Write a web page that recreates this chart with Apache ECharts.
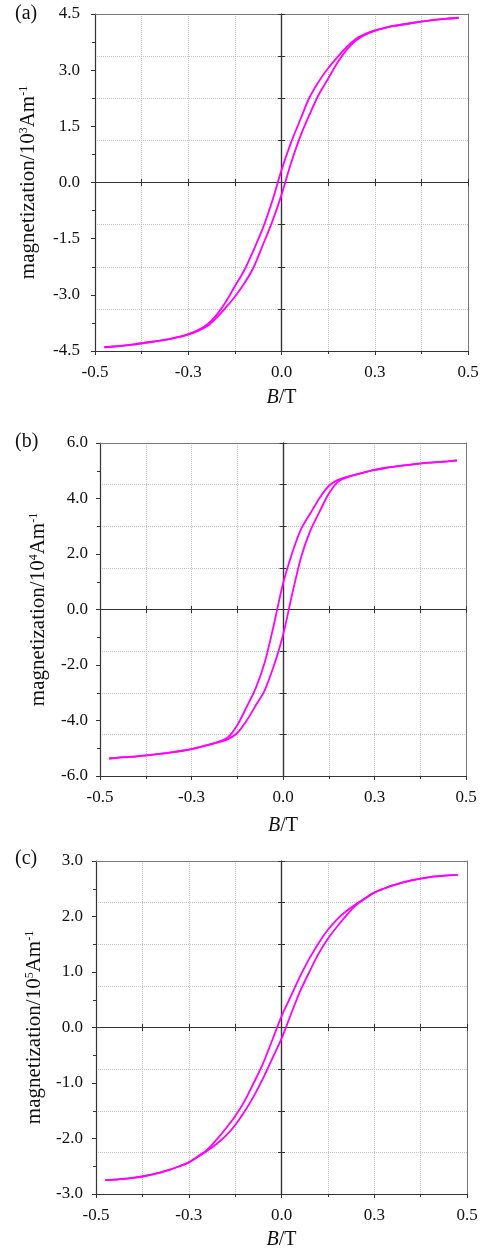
<!DOCTYPE html>
<html><head><meta charset="utf-8">
<script src="https://cdn.jsdelivr.net/npm/echarts@6/dist/echarts.min.js"></script>
<style>html,body{margin:0;padding:0;background:#fff}#c{width:485px;height:1248px}</style>
</head><body><div id="c"></div>
<script>
// Field values B (T) at which the branches were read
const B_VALUES = [-0.475,-0.45,-0.4,-0.35,-0.3,-0.275,-0.25,-0.225,-0.2,-0.175,-0.15,-0.125,-0.1,-0.075,-0.05,-0.025,0,0.025,0.05,0.075,0.1,0.125,0.15,0.175,0.2,0.225,0.25,0.275,0.3,0.35,0.4,0.45,0.475];

// Panel (a): magnetization / 10^3 A m^-1
const A_DESC = [-4.40,-4.38,-4.33,-4.26,-4.18,-4.125,-4.05,-3.95,-3.80,-3.55,-3.20,-2.77,-2.35,-1.81,-1.22,-0.50,0.33,1.05,1.67,2.27,2.70,3.05,3.35,3.62,3.84,3.97,4.06,4.125,4.18,4.26,4.33,4.38,4.40];
const A_ASC  = [-4.40,-4.38,-4.33,-4.26,-4.18,-4.125,-4.06,-3.97,-3.84,-3.62,-3.35,-3.05,-2.70,-2.27,-1.67,-1.05,-0.33,0.50,1.22,1.81,2.35,2.77,3.20,3.55,3.80,3.95,4.05,4.125,4.18,4.26,4.33,4.38,4.40];

// Panel (b): magnetization / 10^4 A m^-1
const B_DESC = [-5.37,-5.34,-5.29,-5.22,-5.14,-5.09,-5.03,-4.95,-4.86,-4.76,-4.60,-4.17,-3.53,-2.85,-1.91,-0.55,0.93,2.03,2.91,3.47,4.02,4.45,4.67,4.78,4.87,4.95,5.03,5.09,5.14,5.22,5.29,5.34,5.37];
const B_ASC  = [-5.37,-5.34,-5.29,-5.22,-5.14,-5.09,-5.03,-4.95,-4.87,-4.78,-4.67,-4.45,-4.02,-3.47,-2.91,-2.03,-0.93,0.55,1.91,2.85,3.53,4.17,4.60,4.76,4.86,4.95,5.03,5.09,5.14,5.22,5.29,5.34,5.37];

// Panel (c): magnetization / 10^5 A m^-1
const C_DESC = [-2.75,-2.74,-2.71,-2.65,-2.56,-2.50,-2.43,-2.32,-2.20,-2.02,-1.82,-1.60,-1.33,-1.00,-0.65,-0.23,0.20,0.56,0.92,1.24,1.52,1.76,1.95,2.10,2.22,2.33,2.43,2.50,2.56,2.65,2.71,2.74,2.75];
const C_ASC  = [-2.75,-2.74,-2.71,-2.65,-2.56,-2.50,-2.43,-2.33,-2.22,-2.10,-1.95,-1.76,-1.52,-1.24,-0.92,-0.56,-0.20,0.23,0.65,1.00,1.33,1.60,1.82,2.02,2.20,2.32,2.43,2.50,2.56,2.65,2.71,2.74,2.75];

// Axis settings
const X_MIN = -0.5, X_MAX = 0.5, X_LABEL_STEP = 0.25, X_GRID_STEP = 0.125;
const PANEL_LABELS = ['(a)','(b)','(c)'];
const Y_EXPONENTS = ['3','4','5'];
const Y_LIMITS = [4.5, 6.0, 3.0];
const Y_LABEL_STEPS = [1.5, 2.0, 1.0];
const Y_GRID_STEPS = [1.125, 1.5, 0.75];

const SERIF = '"Liberation Serif","Times New Roman",serif';
const DARK = '#333';
const FRAME2 = '#777';
const GRIDC = '#c4c4c4';
const CURVE = '#ff00ff';

const layout = [
  {grid:{left:95, top:14, width:373, height:337}, labelTop:4, yGap:56, yMargin:15, xNameGap:37},
  {grid:{left:100, top:443, width:366, height:333}, labelTop:432, yGap:51, yMargin:12, xNameGap:40},
  {grid:{left:96, top:861, width:371, height:333}, labelTop:849, yGap:49, yMargin:13, xNameGap:36}
];
const descData = [A_DESC, B_DESC, C_DESC];
const ascData = [A_ASC, B_ASC, C_ASC];

const grids = [], xAxes = [], yAxes = [], series = [], graphics = [];
const fmt = v => (Math.round(v * 1000) / 1000).toFixed(1);

layout.forEach((L, i) => {
  grids.push(Object.assign({containLabel:false, outerBoundsMode:'none'}, L.grid));
  const xb = xAxes.length, yb = yAxes.length;
  const yMax = Y_LIMITS[i], yMin = -Y_LIMITS[i];
  const baseX = {type:'value', gridIndex:i, min:X_MIN, max:X_MAX};
  const baseY = {type:'value', gridIndex:i, min:yMin, max:yMax};
  // main bottom axis
  xAxes.push(Object.assign({}, baseX, {
    interval:X_LABEL_STEP, position:'bottom',
    axisLine:{show:true, onZero:false, lineStyle:{color:DARK, width:1.2}},
    axisTick:{show:true, inside:false, length:4, lineStyle:{color:DARK}},
    minorTick:{show:true, splitNumber:2, length:3, lineStyle:{color:DARK}},
    splitLine:{show:false},
    axisLabel:{formatter:fmt, fontFamily:SERIF, fontSize:17, color:'#111', margin:13},
    name:'{i|B}/T', nameLocation:'middle', nameGap:L.xNameGap,
    nameTextStyle:{fontFamily:SERIF, fontSize:20, color:'#111',
      rich:{i:{fontFamily:SERIF, fontSize:20, fontStyle:'italic', color:'#111'}}}
  }));
  // dotted grid x
  xAxes.push(Object.assign({}, baseX, {
    interval:X_GRID_STEP, axisLine:{show:false, onZero:false}, axisTick:{show:false},
    axisLabel:{show:false}, splitLine:{show:true, lineStyle:{type:'dotted', color:GRIDC, width:1}}
  }));
  // top frame
  xAxes.push(Object.assign({}, baseX, {
    position:'top', axisLine:{show:true, onZero:false, lineStyle:{color:FRAME2}},
    axisTick:{show:false}, axisLabel:{show:false}, splitLine:{show:false}
  }));
  // centre horizontal axis (M = 0) with crossing ticks
  [true, false].forEach(inside => {
    xAxes.push(Object.assign({}, baseX, {
      interval:X_GRID_STEP, position:'bottom',
      axisLine:{show:true, onZero:true, onZeroAxisIndex:yb, lineStyle:{color:DARK, width:1.2}},
      axisTick:{show:true, inside:inside, length:3.5, lineStyle:{color:DARK}},
      axisLabel:{show:false}, splitLine:{show:false}
    }));
  });

  // main left axis
  yAxes.push(Object.assign({}, baseY, {
    interval:Y_LABEL_STEPS[i], position:'left',
    axisLine:{show:true, onZero:false, lineStyle:{color:DARK, width:1.2}},
    axisTick:{show:true, inside:false, length:4, lineStyle:{color:DARK}},
    minorTick:{show:true, splitNumber:2, length:3, lineStyle:{color:DARK}},
    splitLine:{show:false},
    axisLabel:{formatter:fmt, fontFamily:SERIF, fontSize:17, color:'#111', margin:L.yMargin},
    name:'magnetization/10{s|' + Y_EXPONENTS[i] + '}Am{s|-1}',
    nameLocation:'middle', nameGap:L.yGap, nameRotate:90,
    nameTextStyle:{fontFamily:SERIF, fontSize:21, color:'#111',
      rich:{s:{fontFamily:SERIF, fontSize:12, color:'#111', verticalAlign:'top'}}}
  }));
  // dotted grid y
  yAxes.push(Object.assign({}, baseY, {
    interval:Y_GRID_STEPS[i], axisLine:{show:false, onZero:false}, axisTick:{show:false},
    axisLabel:{show:false}, splitLine:{show:true, lineStyle:{type:'dotted', color:GRIDC, width:1}}
  }));
  // right frame
  yAxes.push(Object.assign({}, baseY, {
    position:'right', axisLine:{show:true, onZero:false, lineStyle:{color:FRAME2}},
    axisTick:{show:false}, axisLabel:{show:false}, splitLine:{show:false}
  }));
  // centre vertical axis (B = 0)
  [true, false].forEach(inside => {
    yAxes.push(Object.assign({}, baseY, {
      interval:Y_GRID_STEPS[i], position:'left',
      axisLine:{show:true, onZero:true, onZeroAxisIndex:xb, lineStyle:{color:DARK, width:1.2}},
      axisTick:{show:true, inside:inside, length:3.5, lineStyle:{color:DARK}},
      axisLabel:{show:false}, splitLine:{show:false}
    }));
  });

  [descData[i], ascData[i]].forEach(arr => {
    series.push({
      type:'line', xAxisIndex:xb, yAxisIndex:yb, z:5, silent:true,
      data: B_VALUES.map((b, k) => [b, arr[k]]),
      smooth:0.3, showSymbol:false, symbol:'none',
      lineStyle:{color:CURVE, width:1.8}, itemStyle:{color:CURVE}
    });
  });

  graphics.push({type:'text', left:15, top:L.labelTop,
    style:{text:PANEL_LABELS[i], font:'20px ' + SERIF, fill:'#111'}});
});

const chart = echarts.init(document.getElementById('c'), null, {renderer:'canvas'});
chart.setOption({
  animation:false, backgroundColor:'#fff',
  grid:grids, xAxis:xAxes, yAxis:yAxes, series:series, graphic:graphics
});
</script>
</body></html>
